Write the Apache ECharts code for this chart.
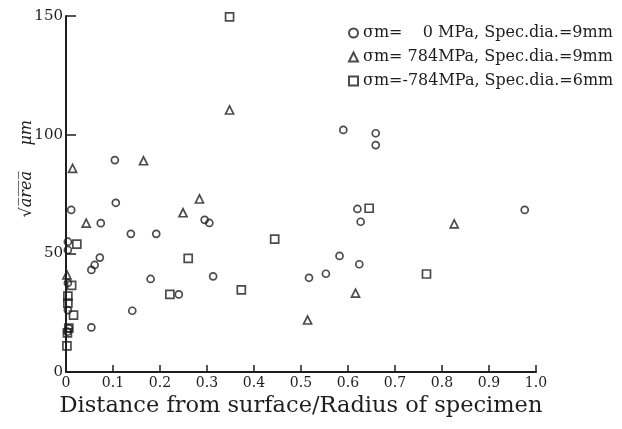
<!DOCTYPE html>
<html>
<head>
<meta charset="utf-8">
<script src="https://cdn.jsdelivr.net/npm/echarts@6/dist/echarts.min.js"></script>
<style>
html,body{margin:0;padding:0;background:#fff;}
#c{width:622px;height:429px;}
</style>
</head>
<body>
<div id="c"></div>
<script>
// Series: sigma_m = 0 MPa, specimen dia. 9 mm  (circles)  [x, sqrt(area)]
var circles0 = [
  [0.011,68.3],[0.106,71.3],[0.074,62.7],[0.295,64.1],[0.305,62.8],
  [0.138,58.2],[0.192,58.2],[0.004,54.9],[0.004,51.4],[0.072,48.2],
  [0.061,45.1],[0.054,43.0],[0.313,40.3],[0.180,39.2],[0.240,32.7],
  [0.004,37.5],[0.004,26.1],[0.141,25.8],[0.006,18.4],[0.054,18.8],
  [0.104,89.3],[0.620,68.7],[0.627,63.3],[0.582,48.9],[0.624,45.4],
  [0.553,41.4],[0.517,39.7],[0.590,102.0],[0.659,100.6],[0.659,95.6],
  [0.976,68.3],[0.003,17.0]
];
// Series: sigma_m = 784 MPa, specimen dia. 9 mm  (triangles)
var tri784 = [
  [0.014,85.8],[0.043,62.7],[0.165,89.0],[0.249,67.1],[0.284,72.9],
  [0.348,110.4],[0.514,21.9],[0.616,33.2],[0.826,62.4],[0.002,40.9]
];
// Series: sigma_m = -784 MPa, specimen dia. 6 mm  (squares)
var sqNeg784 = [
  [0.348,149.6],[0.023,53.9],[0.260,47.9],[0.221,32.7],[0.444,56.0],
  [0.645,69.0],[0.373,34.6],[0.767,41.3],[0.012,36.5],[0.004,32.0],
  [0.004,29.0],[0.016,24.0],[0.006,18.5],[0.003,16.5],[0.002,11.0]
];
var seriesNames = [
  'σm=    0 MPa, Spec.dia.=9mm',
  'σm= 784MPa, Spec.dia.=9mm',
  'σm=-784MPa, Spec.dia.=6mm'
];
var xTicks = [0,0.1,0.2,0.3,0.4,0.5,0.6,0.7,0.8,0.9,1.0];
var yTicks = [0,50,100,150];
var xTitle = 'Distance from surface/Radius of specimen';

var ink = '#1e1e1e';
var serif = '"DejaVu Serif", "Liberation Serif", serif';
function mk(name, data, symbol, size){
  return {
    name: name, type: 'scatter', data: data, symbol: symbol, symbolSize: size,
    itemStyle: {color: 'rgba(255,255,255,0)', borderColor: ink, borderWidth: 1.7},
    emphasis: {disabled: true}
  };
}
var chart = echarts.init(document.getElementById('c'), null, {renderer: 'canvas'});
chart.setOption({
  backgroundColor: '#fff',
  animation: false,
  grid: {left: 66, right: 86, top: 16, bottom: 57, containLabel: false},
  legend: {
    orient: 'vertical', left: 343, top: 20, itemWidth: 9, itemHeight: 9, itemGap: 8,
    textStyle: {fontFamily: serif, fontSize: 16, color: ink, lineHeight: 16},
    data: seriesNames
  },
  xAxis: {
    type: 'value', min: 0, max: 1, interval: 0.1,
    name: xTitle, nameLocation: 'middle', nameGap: 22,
    nameTextStyle: {fontFamily: serif, fontSize: 22.5, color: ink},
    axisLine: {lineStyle: {color: ink, width: 2}},
    axisTick: {inside: true, length: 7, lineStyle: {color: ink, width: 1.5}},
    splitLine: {show: false},
    axisLabel: {fontFamily: serif, fontSize: 14, color: ink, margin: 4,
      formatter: function(v){ return xTicks.indexOf(Math.round(v*10)/10) < 0 ? '' : (v === 0 ? '0' : v.toFixed(1)); }}
  },
  yAxis: {
    type: 'value', min: 0, max: 150, interval: 50,
    axisLine: {show: true, lineStyle: {color: ink, width: 2}},
    axisTick: {show: true, inside: true, length: 10, lineStyle: {color: ink, width: 1.5}},
    splitLine: {show: false},
    axisLabel: {fontFamily: serif, fontSize: 15, color: ink, margin: 3,
      formatter: function(v){ return yTicks.indexOf(v) < 0 ? '' : String(v); }}
  },
  graphic: [{
    type: 'text', left: 19, top: 120, rotation: Math.PI/2,
    style: {text: '√a\u0305r\u0305e\u0305a\u0305     μm', font: 'italic 16px "DejaVu Serif"', fill: ink}
  }],
  series: [
    mk(seriesNames[0], circles0, 'circle', 7),
    mk(seriesNames[1], tri784, 'triangle', 8),
    mk(seriesNames[2], sqNeg784, 'rect', 8)
  ]
});
</script>
</body>
</html>
